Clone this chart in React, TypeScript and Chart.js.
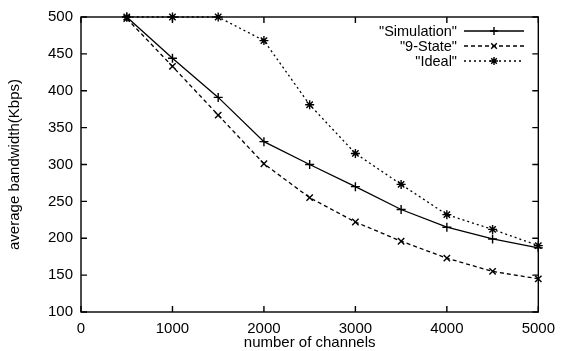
import React, { useEffect, useRef } from "react";
import { Chart, registerables } from "chart.js";
import { drawPoint } from "chart.js/helpers";

Chart.register(...registerables);

const channels = [500, 1000, 1500, 2000, 2500, 3000, 3500, 4000, 4500, 5000];
const simulation = [500, 444, 391, 331, 300, 270, 239, 215, 199, 187];
const nineState = [498, 433, 367, 301, 255, 222, 196, 173, 155, 145];
const ideal = [500, 500, 500, 468, 381, 315, 273, 232, 212, 190];
const seriesNames = ['"Simulation"', '"9-State"', '"Ideal"'];
const xTicks = [0, 1000, 2000, 3000, 4000, 5000];
const yTicks = [100, 150, 200, 250, 300, 350, 400, 450, 500];

const FONT = "'Liberation Sans', Arial, Helvetica, sans-serif";

const styles = [
  { dash: [] as number[], point: "cross" },
  { dash: [4, 3], point: "crossRot" },
  { dash: [2, 3], point: "star" },
];

const framePlugin = {
  id: "gnuFrame",
  afterDraw(chart: any) {
    const { ctx, chartArea } = chart;
    const { left, right, top, bottom } = chartArea;
    const xs = chart.scales.x;
    const ys = chart.scales.y;
    ctx.save();
    ctx.strokeStyle = "#000";
    ctx.lineWidth = 1.4;
    ctx.setLineDash([]);
    ctx.strokeRect(left, top, right - left, bottom - top);
    const t = 6;
    ctx.beginPath();
    xTicks.forEach((v) => {
      const px = xs.getPixelForValue(v);
      ctx.moveTo(px, bottom);
      ctx.lineTo(px, bottom - t);
      ctx.moveTo(px, top);
      ctx.lineTo(px, top + t);
    });
    yTicks.forEach((v) => {
      const py = ys.getPixelForValue(v);
      ctx.moveTo(left, py);
      ctx.lineTo(left + t, py);
      ctx.moveTo(right, py);
      ctx.lineTo(right - t, py);
    });
    ctx.stroke();

    // axis titles
    ctx.fillStyle = "#000";
    ctx.font = `15px ${FONT}`;
    ctx.textAlign = "center";
    ctx.textBaseline = "middle";
    ctx.fillText("number of channels", (left + right) / 2, 343);
    ctx.save();
    ctx.translate(15, (top + bottom) / 2);
    ctx.rotate(-Math.PI / 2);
    ctx.fillText("average bandwidth(Kbps)", 0, 0);
    ctx.restore();

    // legend
    const rows = [31, 46, 61];
    ctx.font = `14.5px ${FONT}`;
    ctx.textAlign = "right";
    chart.data.datasets.forEach((ds: any, i: number) => {
      const y = rows[i];
      ctx.fillText(seriesNames[i], 457, y + 1);
      ctx.beginPath();
      ctx.setLineDash(styles[i].dash);
      ctx.lineWidth = 1.3;
      ctx.moveTo(464, y);
      ctx.lineTo(524, y);
      ctx.stroke();
      ctx.setLineDash([]);
      ctx.lineWidth = 1.4;
      drawPoint(
        ctx,
        { pointStyle: styles[i].point, radius: 4, borderWidth: 1.4, rotation: 0 } as any,
        494,
        y
      );
    });
    ctx.restore();
  },
};

export default function App() {
  const ref = useRef<HTMLCanvasElement>(null);
  useEffect(() => {
    document.body.style.margin = "0";
    const mk = (data: number[], i: number) => ({
      label: seriesNames[i],
      data: channels.map((c, k) => ({ x: c, y: data[k] })),
      borderColor: "#000",
      backgroundColor: "#000",
      borderWidth: 1.3,
      borderDash: styles[i].dash,
      pointStyle: styles[i].point,
      pointRadius: 4.5,
      pointBorderWidth: 1.4,
      pointBorderColor: "#000",
      tension: 0,
      fill: false,
    });
    const chart = new Chart(ref.current!, {
      type: "line",
      data: {
        datasets: [mk(simulation, 0), mk(nineState, 1), mk(ideal, 2)],
      },
      options: {
        responsive: false,
        animation: false,
        clip: false as any,
        layout: { padding: { top: 16, right: 21, left: 0, bottom: 0 } },
        plugins: { legend: { display: false }, tooltip: { enabled: false } },
        scales: {
          x: {
            type: "linear",
            min: 0,
            max: 5000,
            afterBuildTicks: (s: any) => {
              s.ticks = xTicks.map((v) => ({ value: v }));
            },
            afterFit: (s: any) => {
              s.height = 39;
            },
            grid: { display: false, drawTicks: false },
            border: { display: false },
            ticks: {
              color: "#000",
              font: { family: FONT, size: 15 },
              padding: 8,
              maxRotation: 0,
              callback: (v: any) => String(v),
            },
          },
          y: {
            type: "linear",
            min: 100,
            max: 500,
            afterBuildTicks: (s: any) => {
              s.ticks = yTicks.map((v) => ({ value: v }));
            },
            afterFit: (s: any) => {
              s.width = 81;
            },
            grid: { display: false, drawTicks: false },
            border: { display: false },
            ticks: {
              color: "#000",
              font: { family: FONT, size: 15 },
              padding: 8,
              callback: (v: any) => String(v),
            },
          },
        },
      },
      plugins: [framePlugin],
    });
    return () => chart.destroy();
  }, []);
  return (
    <canvas
      ref={ref}
      width={563}
      height={351}
      style={{ position: "fixed", left: 0, top: 0, display: "block", background: "#fff" }}
    />
  );
}
